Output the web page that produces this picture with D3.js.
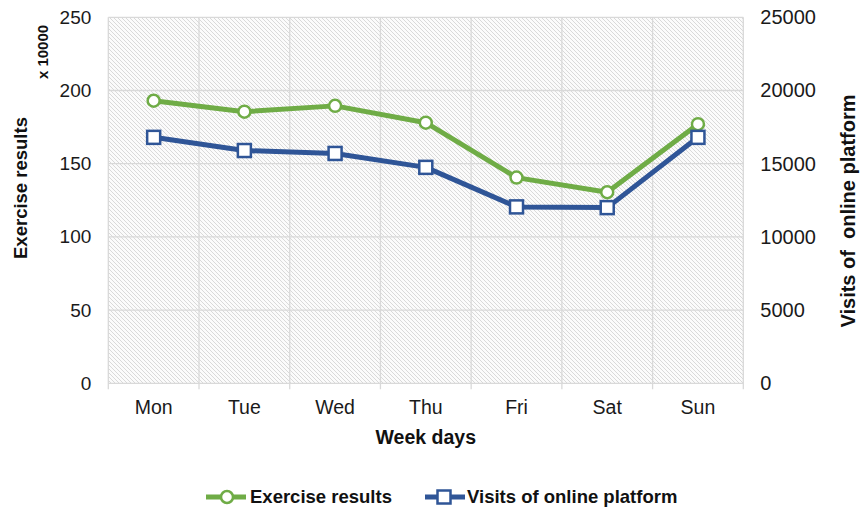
<!DOCTYPE html>
<html><head><meta charset="utf-8">
<script src="https://cdn.jsdelivr.net/npm/d3@7"></script>
<style>body{margin:0;background:#fff;}text{font-family:"Liberation Sans",Arial,sans-serif;}</style>
</head><body>
<svg id="c" width="860" height="509"></svg>
<script>
const days = ["Mon","Tue","Wed","Thu","Fri","Sat","Sun"];
const exercise = [193, 185.5, 189.5, 178, 140.5, 130.5, 177];
const visits = [16800, 15900, 15700, 14750, 12050, 12000, 16800];
const leftTicks = [0, 50, 100, 150, 200, 250];
const rightTicks = [0, 5000, 10000, 15000, 20000, 25000];
const seriesNames = ["Exercise results", "Visits of online platform"];

const svg = d3.select("#c");
const L = 108.3, R = 743.3, T = 17.3, B = 383.3;
const green = "#6fac46", blue = "#2f5597";

const defs = svg.append("defs");
const pat = defs.append("pattern").attr("id","hatch").attr("patternUnits","userSpaceOnUse")
  .attr("width",4).attr("height",4);
pat.append("rect").attr("width",4).attr("height",4).attr("fill","#fbfbfb");
pat.append("path").attr("d","M-1,-1 L5,5 M-1,3 L1,5 M3,-1 L5,1").attr("stroke","#d9d9d9").attr("stroke-width",1);

const x = d3.scaleBand().domain(days).range([L, R]);
const yL = d3.scaleLinear().domain([0,250]).range([B, T]);
const yR = d3.scaleLinear().domain([0,25000]).range([B, T]);

svg.append("rect").attr("x",L).attr("y",T).attr("width",R-L).attr("height",B-T).attr("fill","url(#hatch)");

// gridlines
svg.append("g").selectAll("line").data(leftTicks).join("line")
  .attr("x1",L).attr("x2",R).attr("y1",d=>yL(d)).attr("y2",d=>yL(d))
  .attr("stroke","#d9d9d9").attr("stroke-width",1.3);
const bounds = days.map(d=>x(d)).concat([R]);
svg.append("g").selectAll("line").data(bounds).join("line")
  .attr("x1",d=>d).attr("x2",d=>d).attr("y1",T).attr("y2",B+6)
  .attr("stroke","#d9d9d9").attr("stroke-width",1.3);

// axes labels
const axL = svg.append("g").attr("transform",`translate(${L},0)`)
  .call(d3.axisLeft(yL).tickValues(leftTicks).tickSize(0).tickPadding(17));
axL.select(".domain").remove();
axL.selectAll("text").attr("font-size",19).attr("fill","#1a1a1a").style("font-family","Liberation Sans, Arial");

const axR = svg.append("g").attr("transform",`translate(${R},0)`)
  .call(d3.axisRight(yR).tickValues(rightTicks).tickFormat(d3.format("d")).tickSize(0).tickPadding(17));
axR.select(".domain").remove();
axR.selectAll("text").attr("font-size",20).attr("fill","#1a1a1a").style("font-family","Liberation Sans, Arial");

const axB = svg.append("g").attr("transform",`translate(0,${B})`)
  .call(d3.axisBottom(x).tickSize(0).tickPadding(17));
axB.select(".domain").remove();
axB.selectAll("text").attr("font-size",19.5).attr("fill","#1a1a1a").style("font-family","Liberation Sans, Arial");

// titles
svg.append("text").attr("x",(L+R)/2).attr("y",444).attr("text-anchor","middle")
  .attr("font-size",19.5).attr("font-weight","bold").attr("fill","#111").text("Week days");
svg.append("text").attr("transform","translate(27,188) rotate(-90)").attr("text-anchor","middle")
  .attr("font-size",18.5).attr("font-weight","bold").attr("fill","#111").text("Exercise results");
svg.append("text").attr("transform","translate(48,52) rotate(-90)").attr("text-anchor","middle")
  .attr("font-size",15).attr("font-weight","bold").attr("fill","#111").text("x 10000");
svg.append("text").attr("transform","translate(855,211) rotate(-90)").attr("text-anchor","middle")
  .attr("font-size",20).attr("font-weight","bold").attr("fill","#111").style("white-space","pre").text("Visits of  online platform");

// series
const cx = d => x(d) + x.bandwidth()/2;
const lineL = d3.line().x((d,i)=>cx(days[i])).y(d=>yL(d));
const lineR = d3.line().x((d,i)=>cx(days[i])).y(d=>yR(d));

svg.append("path").attr("d",lineL(exercise)).attr("fill","none").attr("stroke",green).attr("stroke-width",5).attr("stroke-linejoin","round");
svg.append("path").attr("d",lineR(visits)).attr("fill","none").attr("stroke",blue).attr("stroke-width",5).attr("stroke-linejoin","round");

svg.append("g").selectAll("circle").data(exercise).join("circle")
  .attr("cx",(d,i)=>cx(days[i])).attr("cy",d=>yL(d)).attr("r",6)
  .attr("fill","#fff").attr("stroke",green).attr("stroke-width",2.5);
svg.append("g").selectAll("rect").data(visits).join("rect")
  .attr("x",(d,i)=>cx(days[i])-6.5).attr("y",d=>yR(d)-6.5).attr("width",13).attr("height",13)
  .attr("fill","#fff").attr("stroke",blue).attr("stroke-width",2.5);

// legend
const lg = svg.append("g");
const ly = 497;
lg.append("line").attr("x1",206).attr("x2",246).attr("y1",ly).attr("y2",ly).attr("stroke",green).attr("stroke-width",5);
lg.append("circle").attr("cx",227).attr("cy",ly).attr("r",6).attr("fill","#fff").attr("stroke",green).attr("stroke-width",2.5);
lg.append("text").attr("x",250).attr("y",ly).attr("dy","0.35em").attr("font-size",18.5).attr("font-weight","bold").attr("fill","#111").text(seriesNames[0]);
lg.append("line").attr("x1",425).attr("x2",465).attr("y1",ly).attr("y2",ly).attr("stroke",blue).attr("stroke-width",5);
lg.append("rect").attr("x",444-6.5).attr("y",ly-6.5).attr("width",13).attr("height",13).attr("fill","#fff").attr("stroke",blue).attr("stroke-width",2.5);
lg.append("text").attr("x",467).attr("y",ly).attr("dy","0.35em").attr("font-size",18.5).attr("font-weight","bold").attr("fill","#111").text(seriesNames[1]);
</script>
</body></html>
